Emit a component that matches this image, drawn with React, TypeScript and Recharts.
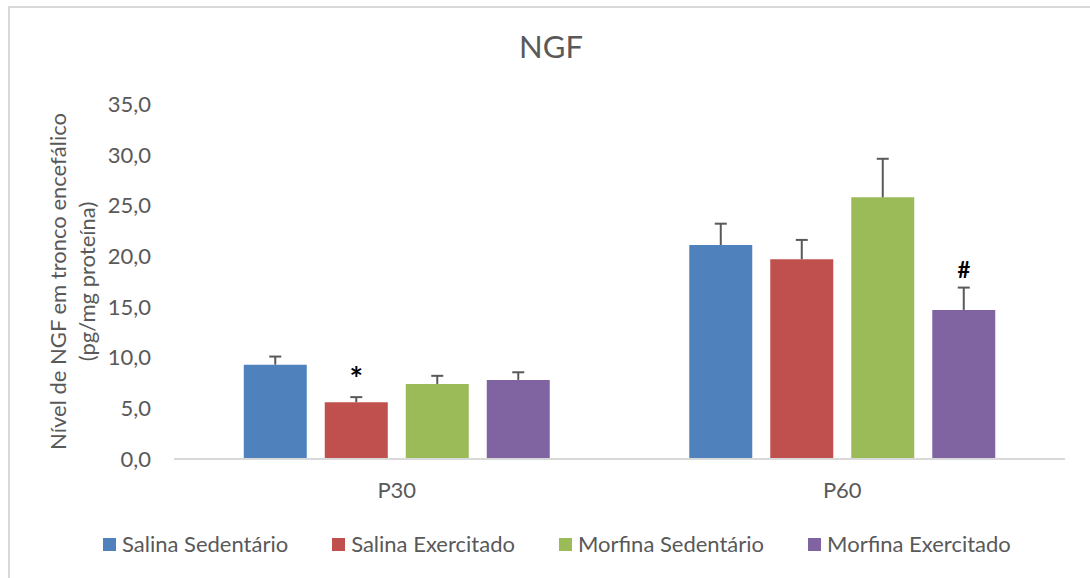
import React from 'react';
import { BarChart, Bar, XAxis, YAxis, LabelList, Rectangle } from 'recharts';

const groups = ['P30', 'P60'];
const seriesNames = ['Salina Sedentário', 'Salina Exercitado', 'Morfina Sedentário', 'Morfina Exercitado'];
const salinaSed = [9.3, 21.1];
const salinaSedErr = [0.8, 2.1];
const salinaExe = [5.6, 19.7];
const salinaExeErr = [0.5, 1.9];
const morfinaSed = [7.4, 25.8];
const morfinaSedErr = [0.8, 3.8];
const morfinaExe = [7.8, 14.7];
const morfinaExeErr = [0.75, 2.2];
const salinaExeMarks = ['*', ''];
const morfinaExeMarks = ['', '#'];
const yTicks = [0, 5, 10, 15, 20, 25, 30, 35];

const COLORS = ['#4F81BD', '#C0504D', '#9BBB59', '#8064A2'];
const TEXT = '#595959';
const FONT = 'Lato, "Open Sans", sans-serif';

const data = groups.map((g, i) => ({
  group: g,
  s0: salinaSed[i], e0: salinaSedErr[i],
  s1: salinaExe[i], e1: salinaExeErr[i], m1: salinaExeMarks[i],
  s2: morfinaSed[i], e2: morfinaSedErr[i],
  s3: morfinaExe[i], e3: morfinaExeErr[i], m3: morfinaExeMarks[i],
}));

// bar plus an upper-only error whisker (the Excel look), scaled off the bar itself
const barWithError = (valKey: string, errKey: string) => (props: any) => {
  const { x, y, width, height, fill, payload } = props;
  const pxPerUnit = height / payload[valKey];
  const top = y - payload[errKey] * pxPerUnit;
  const cx = x + width / 2;
  return (
    <g>
      <Rectangle x={x} y={y} width={width} height={height} fill={fill} />
      <line x1={cx} y1={y} x2={cx} y2={top} stroke={TEXT} strokeWidth={2} />
      <line x1={cx - 6} y1={top} x2={cx + 6} y2={top} stroke={TEXT} strokeWidth={2} />
    </g>
  );
};

// significance mark sits just above the error whisker
const markRenderer = (vals: number[], errs: number[], size: number, gap: number) => (props: any) => {
  const { x, y, width, height, value, index } = props;
  if (!value) return null;
  const pxPerUnit = height / vals[index];
  const top = y - errs[index] * pxPerUnit;
  return (
    <text x={x + width / 2} y={top - gap} textAnchor="middle" fontSize={size} fontWeight="bold" fill="#000" fontFamily={FONT}>
      {value}
    </text>
  );
};

const YAxisTitle = (props: any) => {
  const { viewBox } = props;
  const cy = viewBox.y + viewBox.height / 2;
  const x1 = viewBox.x - 38;
  const x2 = viewBox.x - 9;
  return (
    <g fill={TEXT} fontSize={22} fontFamily={FONT}>
      <text x={x1} y={cy} textAnchor="middle" transform={`rotate(-90, ${x1}, ${cy})`}>Nível de NGF em tronco encefálico</text>
      <text x={x2} y={cy} textAnchor="middle" transform={`rotate(-90, ${x2}, ${cy})`}>(pg/mg proteína)</text>
    </g>
  );
};

export default function App() {
  return (
    <div style={{ position: 'absolute', left: 0, top: 0, width: 1090, height: 578, background: '#fff', overflow: 'hidden' }}>
      <div style={{ position: 'absolute', left: 8, top: 6, width: 1200, height: 700, borderTop: '2px solid #d9d9d9', borderLeft: '2px solid #d9d9d9' }} />
      <div style={{ position: 'absolute', left: 0, top: 28, width: 1102, textAlign: 'center', fontSize: 31, lineHeight: 1.2, color: TEXT, fontFamily: FONT }}>
        NGF
      </div>
      <BarChart
        width={1090}
        height={578}
        data={data}
        margin={{ top: 104, right: 25, bottom: 89, left: 104 }}
        barCategoryGap="15.66%"
        barGap={18}
        style={{ position: 'absolute', left: 0, top: 0, fontFamily: FONT }}
      >
        <XAxis
          dataKey="group"
          height={30}
          axisLine={{ stroke: '#d9d9d9', strokeWidth: 2 }}
          tickLine={false}
          tickMargin={17}
          tick={{ fill: TEXT, fontSize: 22 }}
        />
        <YAxis
          domain={[0, 35]}
          ticks={yTicks}
          tickFormatter={(v: number) => v.toFixed(1).replace('.', ',')}
          axisLine={false}
          tickLine={false}
          tickMargin={17}
          width={70}
          tick={{ fill: TEXT, fontSize: 22 }}
          label={<YAxisTitle />}
        />
        <Bar dataKey="s0" name={seriesNames[0]} fill={COLORS[0]} isAnimationActive={false} shape={barWithError('s0', 'e0')} />
        <Bar dataKey="s1" name={seriesNames[1]} fill={COLORS[1]} isAnimationActive={false} shape={barWithError('s1', 'e1')}>
          <LabelList dataKey="m1" content={markRenderer(salinaExe, salinaExeErr, 32, 6)} />
        </Bar>
        <Bar dataKey="s2" name={seriesNames[2]} fill={COLORS[2]} isAnimationActive={false} shape={barWithError('s2', 'e2')} />
        <Bar dataKey="s3" name={seriesNames[3]} fill={COLORS[3]} isAnimationActive={false} shape={barWithError('s3', 'e3')}>
          <LabelList dataKey="m3" content={markRenderer(morfinaExe, morfinaExeErr, 22, 10)} />
        </Bar>
      </BarChart>
      <div style={{ position: 'absolute', left: 103, top: 531, display: 'flex', gap: 44, fontSize: 22, lineHeight: 1.2, color: TEXT, fontFamily: FONT }}>
        {seriesNames.map((n, i) => (
          <div key={n} style={{ display: 'flex', alignItems: 'center' }}>
            <span style={{ display: 'inline-block', width: 13, height: 13, background: COLORS[i], marginRight: 6 }} />
            {n}
          </div>
        ))}
      </div>
    </div>
  );
}
